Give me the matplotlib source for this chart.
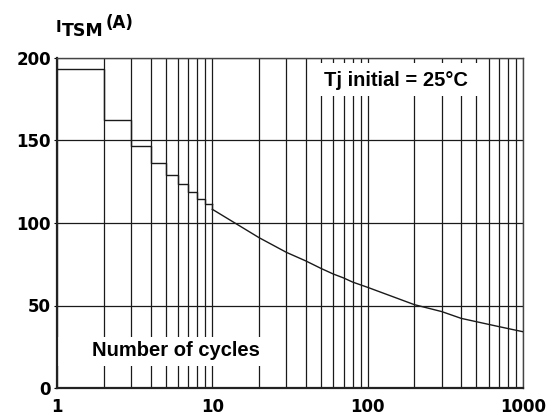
import matplotlib.pyplot as plt
from matplotlib.ticker import LogLocator, NullFormatter, FixedLocator, FixedFormatter

plt.rcParams['font.family'] = ['DejaVu Sans']

# surge current per number of cycles (steps 1..10, then a smooth curve)
step_cycles = [1, 2, 3, 4, 5, 6, 7, 8, 9, 10]
step_current = [193.5, 162.5, 146.7, 136.5, 129.0, 123.4, 118.6, 114.7, 111.3, 111.3]

curve_cycles = [10, 20, 30, 40, 50, 60, 70, 80, 100, 200, 300, 400, 500, 700, 1000]
curve_current = [108.3, 91.1, 82.2, 77.0, 72.5, 69.1, 66.7, 64.2, 61.0, 50.5, 46.3,
                 42.2, 40.2, 37.2, 34.1]

x_ticks = [1, 10, 100, 1000]
y_ticks = [0, 50, 100, 150, 200]

W, H = 559, 417
def fx(px):
    return px / W
def fy(py):
    return 1 - py / H

fig = plt.figure(figsize=(5.59, 4.17), dpi=100)
ax = fig.add_axes([fx(57), fy(388), 466 / W, 330 / H])
ax.set_axisbelow(True)

ax.set_xscale('log')
ax.set_xlim(1, 1000)
ax.set_ylim(0, 200)

ax.xaxis.set_major_locator(FixedLocator(x_ticks))
ax.xaxis.set_major_formatter(FixedFormatter([str(v) for v in x_ticks]))
ax.xaxis.set_minor_locator(LogLocator(base=10, subs=range(2, 10)))
ax.xaxis.set_minor_formatter(NullFormatter())
ax.set_yticks(y_ticks)

ax.grid(True, which='both', axis='x', color='#1a1a1a', lw=0.9)
ax.grid(True, which='major', axis='y', color='#1a1a1a', lw=0.9)

ax.tick_params(axis='x', which='both', length=0, pad=7, labelsize=12)
ax.tick_params(axis='y', length=2.5, pad=2, labelsize=12)
for lab in ax.get_xticklabels() + ax.get_yticklabels():
    lab.set_fontweight('bold')

for side in ['left', 'bottom']:
    ax.spines[side].set_linewidth(1.6)
    ax.spines[side].set_color('#222222')
for side in ['top', 'right']:
    ax.spines[side].set_linewidth(1.0)
    ax.spines[side].set_color('#444444')

ax.step(step_cycles, step_current, where='post', color='#1a1a1a', lw=1.0, zorder=3)
ax.plot([10, 10], [step_current[-1], curve_current[0]], color='#1a1a1a', lw=1.0, zorder=3)
ax.plot(curve_cycles, curve_current, color='#1a1a1a', lw=1.0, zorder=3)

# white boxes hiding the grid behind the two notes (spines stay on top)
for x0, y0, x1, y1 in [(58, 337, 272, 366), (312, 63, 484, 96)]:
    ax.add_patch(plt.Rectangle((fx(x0), fy(y1)), (x1 - x0) / W, (y1 - y0) / H,
                               transform=fig.transFigure, facecolor='white',
                               edgecolor='none', zorder=1, clip_on=False))

note_font = dict(family='Liberation Sans', fontsize=14.5, fontweight='bold',
                 ha='center', va='center', zorder=5)
fig.text(fx(176), fy(351), 'Number of cycles', **note_font)
fig.text(fx(396), fy(81), 'Tj initial = 25°C', **note_font)

# y axis label I_TSM (A)
fig.text(fx(56), fy(32.5), 'I', fontsize=11, fontweight='bold', va='baseline')
fig.text(fx(62), fy(36), 'TSM', fontsize=12.5, fontweight='bold', va='baseline')
fig.text(fx(106), fy(27.5), '(A)', fontsize=12, fontweight='bold', va='baseline')

fig.savefig('out.png', dpi=100)
